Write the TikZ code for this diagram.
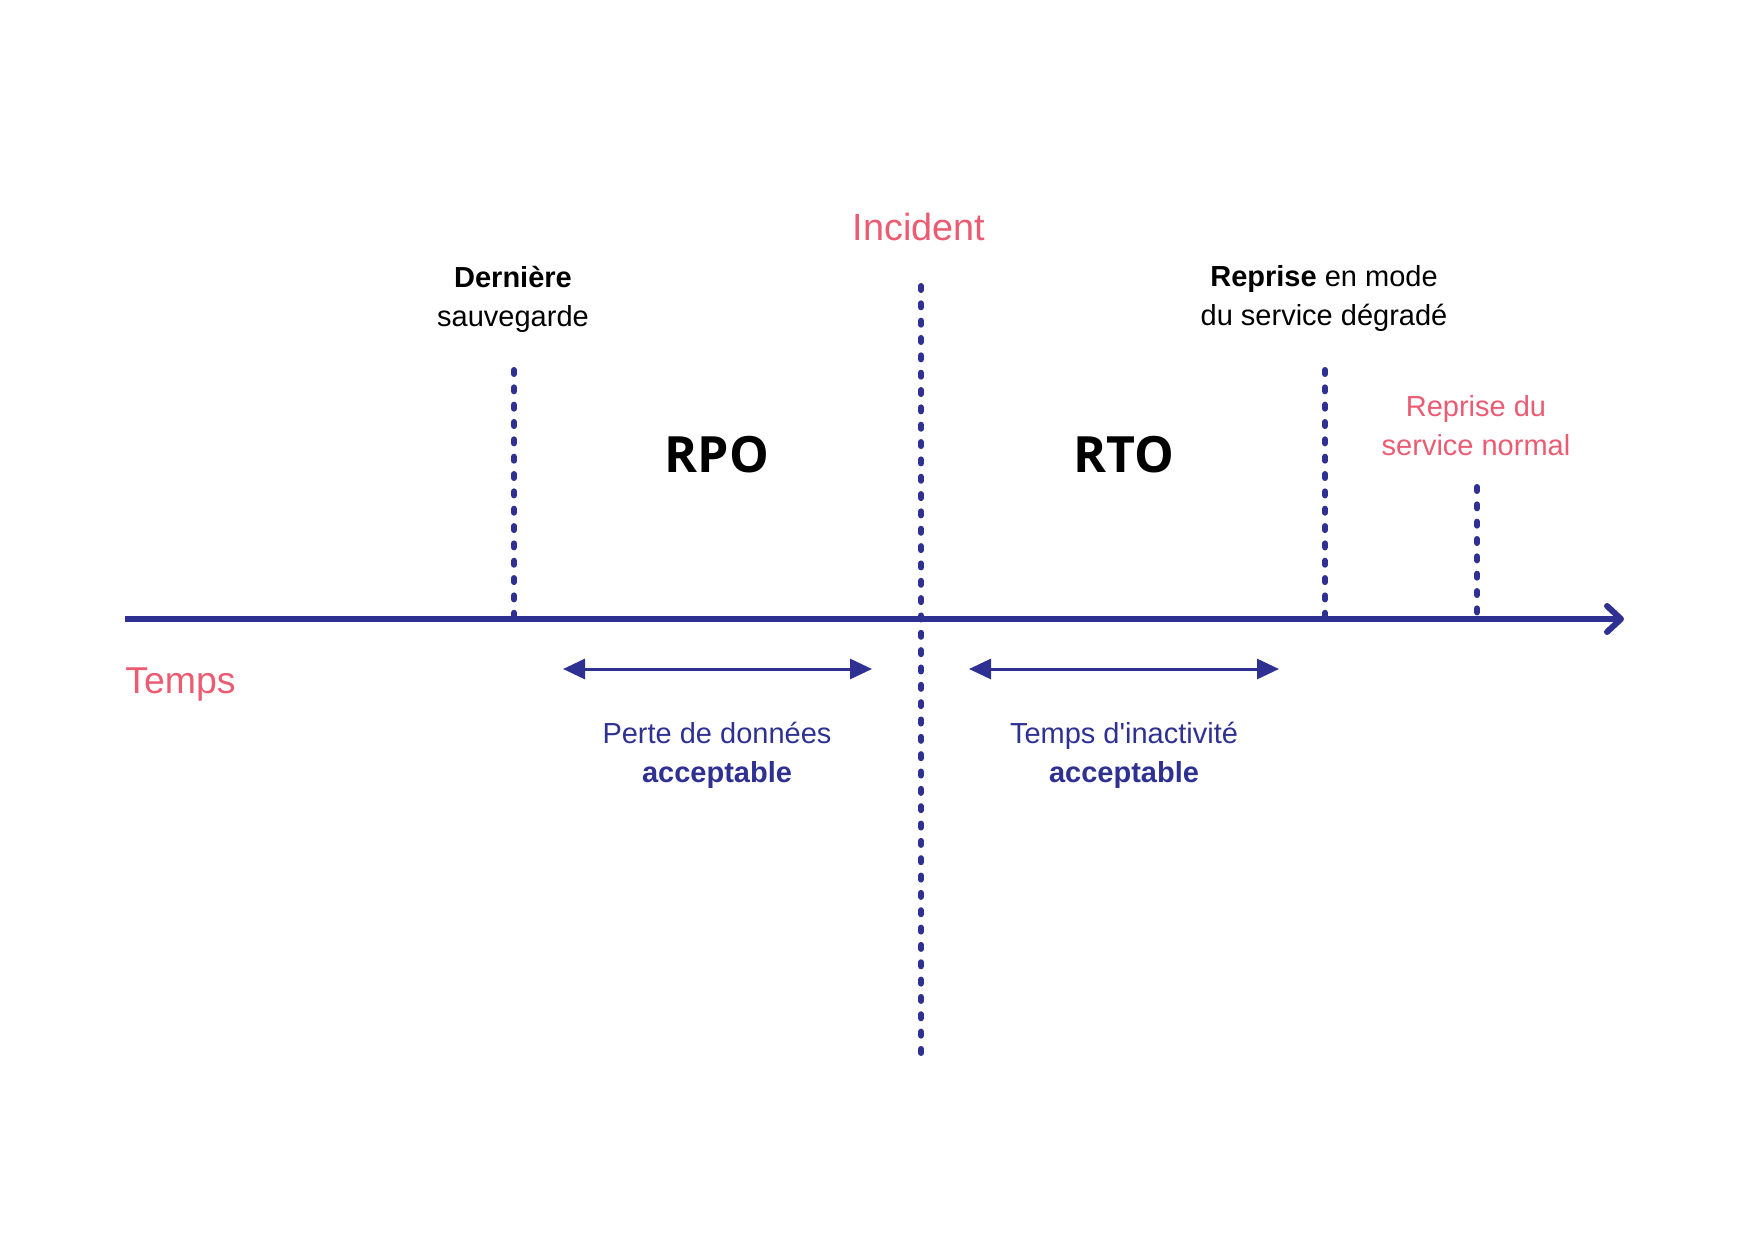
\documentclass[tikz,border=0pt]{standalone}
\usepackage{fontspec}
\setmainfont{Liberation Sans}[Ligatures=TeXOff]
\newfontfamily\titlefont{Open Sans}
\usetikzlibrary{arrows.meta,positioning}
\definecolor{navy}{HTML}{2E3192}
\definecolor{rose}{HTML}{EB5C73}

\begin{document}
\begin{tikzpicture}[x=0.5pt, y=-0.5pt,
  lbl/.style={align=center, inner sep=0pt, font=\fontsize{14.5}{19.5}\selectfont},
  big/.style={inner sep=0pt, font=\titlefont\bfseries\fontsize{25}{30}\selectfont},
  axis/.style={navy, line width=3pt, -{Straight Barb[round, length=7pt, width=13pt]}},
  dotline/.style={navy, line width=3pt, line cap=round, dash pattern=on 2pt off 6.67pt},
  span/.style={navy, line width=1.5pt, {Triangle[length=11pt, width=10pt]}-{Triangle[length=11pt, width=10pt]}}]
\useasboundingbox (0,0) rectangle (1748,1240);
% time axis
\coordinate (t0) at (125,619);
\coordinate (t1) at (1624,619);
\draw[axis] (t0) -- (t1);
\node[anchor=west, inner sep=0pt, rose, font=\fontsize{18.7}{22}\selectfont] (temps) at (125,685) {Temps};
% events
\coordinate (sv1) at (514,370);   \coordinate (sv2) at (514,619);
\coordinate (inc1) at (921,286);  \coordinate (inc2) at (921,1053);
\coordinate (deg1) at (1325,370); \coordinate (deg2) at (1325,619);
\coordinate (nor1) at (1477,487); \coordinate (nor2) at (1477,619);
\draw[dotline] (sv1) -- (sv2);
\draw[dotline] (inc1) -- (inc2);
\draw[dotline] (deg1) -- (deg2);
\draw[dotline] (nor1) -- (nor2);
\node[lbl] (save) at (513,299) {\textbf{Dernière}\\sauvegarde};
\node[inner sep=0pt, rose, font=\fontsize{18.9}{22}\selectfont] (incident) at (919,227) {Incident};
\node[lbl] (degrade) at (1324,299) {\textbf{Reprise} en mode\\du service dégradé};
\node[lbl, rose] (normal) at (1476,426) {Reprise du\\service normal};
% objectives
\node[big] (rpo) at (717,455) {RPO};
\node[big] (rto) at (1124,455) {RTO};
\coordinate (rpoa) at (563,669); \coordinate (rpob) at (872,669);
\coordinate (rtoa) at (969,669); \coordinate (rtob) at (1279,669);
\draw[span] (rpoa) -- (rpob);
\draw[span] (rtoa) -- (rtob);
\node[lbl, navy] (perte) at (717,755) {Perte de données\\\textbf{acceptable}};
\node[lbl, navy] (inact) at (1124,755) {Temps d'inactivité\\\textbf{acceptable}};
\end{tikzpicture}
\end{document}
